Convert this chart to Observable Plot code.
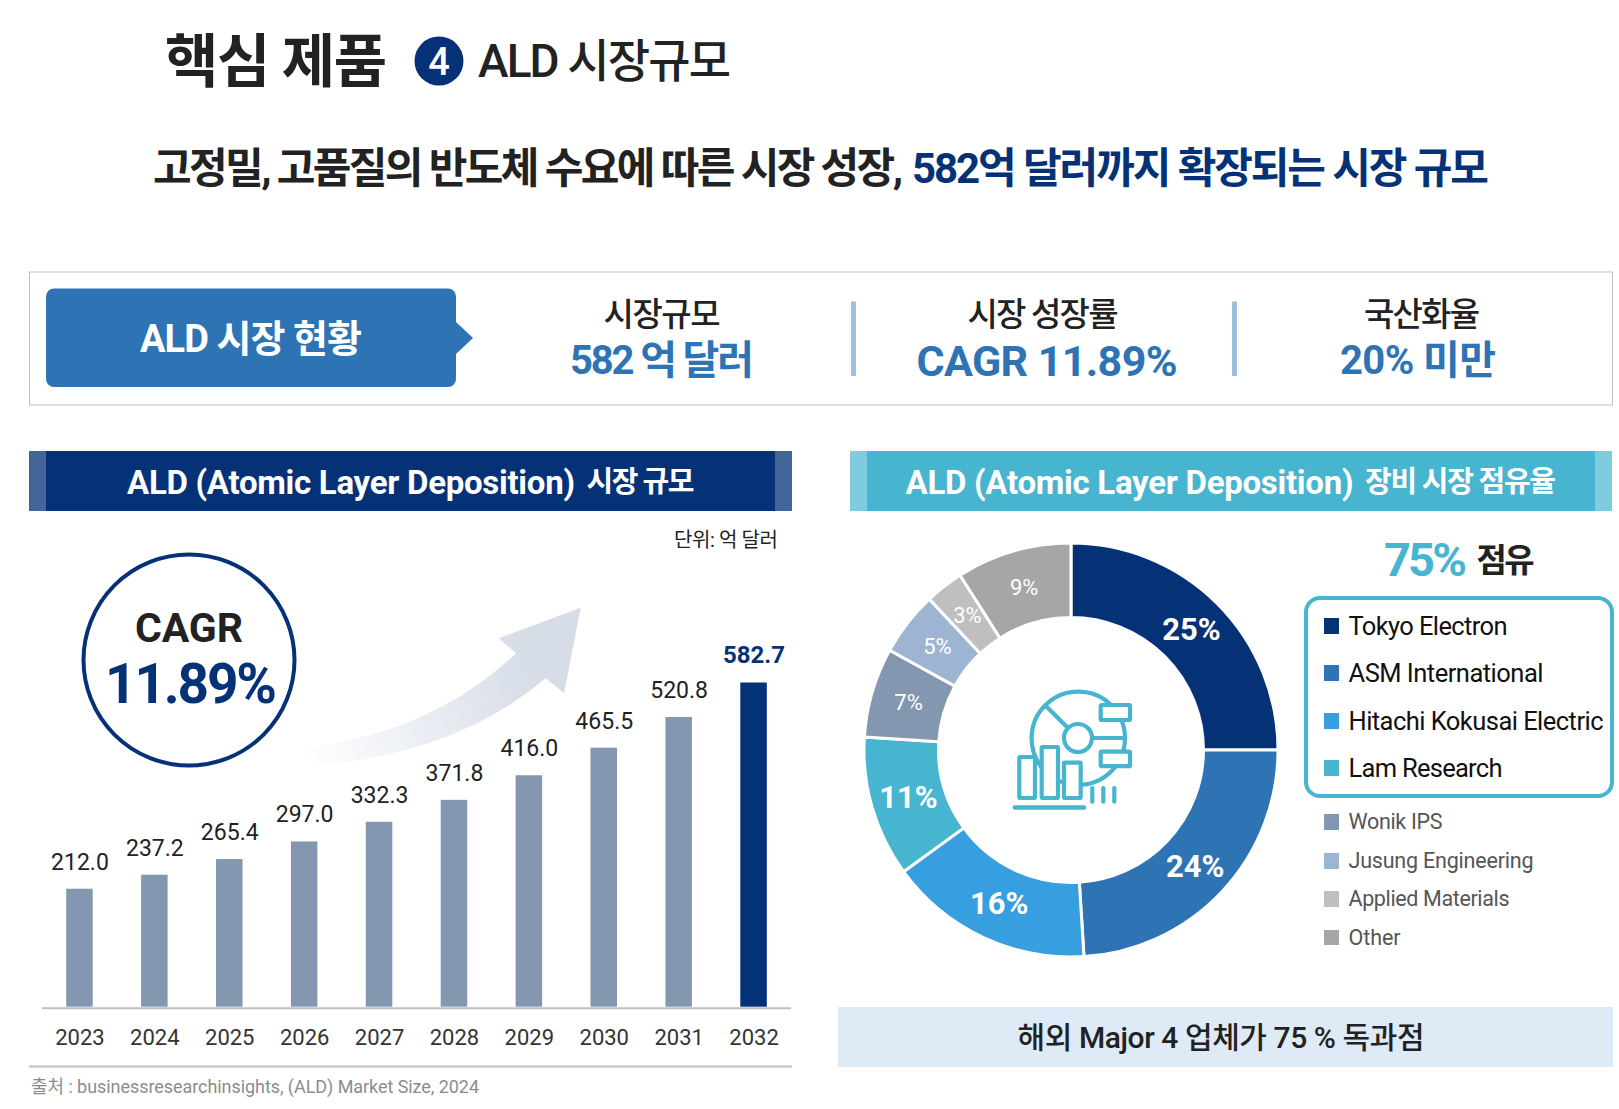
<!doctype html>
<html lang="ko"><head><meta charset="utf-8">
<script src="https://cdn.jsdelivr.net/npm/d3@7"></script>
<script src="https://cdn.jsdelivr.net/npm/@observablehq/plot@0.6"></script>
<style>
html,body{margin:0;background:#fff}
#page{position:relative;width:1619px;height:1109px;overflow:hidden;font-family:Roboto,"Noto Sans CJK KR",sans-serif;color:#222}
#page>svg,#page>.plot{position:absolute}
.t{position:absolute;white-space:pre;line-height:1}
</style></head><body><div id="page"></div>
<script>
const years = ["2023","2024","2025","2026","2027","2028","2029","2030","2031","2032"];
const marketSize = [212.0,237.2,265.4,297.0,332.3,371.8,416.0,465.5,520.8,582.7];
const companies = ["Tokyo Electron","ASM International","Hitachi Kokusai Electric","Lam Research","Wonik IPS","Jusung Engineering","Applied Materials","Other"];
const shares = [25,24,16,11,7,5,3,9];
const NAVY="#053277", BLUE="#2e74b5", TEAL="#47b4d0", SLATE="#8497b0";
const shareColors = [NAVY,BLUE,"#379fe0",TEAL,SLATE,"#9db5d2","#bfbfbf","#a6a6a6"];
const legendWidths = [159,195,255,154,94,185,161,52];
const legendY = [626,673,721,768,822,861,899,937.5];

const page = document.getElementById("page");

// decoration layer
const deco = document.createElementNS("http://www.w3.org/2000/svg","svg");
deco.setAttribute("width",1619);deco.setAttribute("height",1109);deco.style.left=0;deco.style.top=0;
deco.innerHTML = `
<defs><linearGradient id="arrowGrad" gradientUnits="userSpaceOnUse" x1="300" y1="757" x2="530" y2="665">
<stop offset="0" stop-color="#fff"/><stop offset="1" stop-color="#d6dde7"/></linearGradient></defs>
<circle cx="439" cy="61" r="24.5" fill="${NAVY}"/>
<rect x="29.5" y="272" width="1583" height="133" fill="none" stroke="#bfbfbf"/>
<path d="M54,288.5H448a8,8 0 0 1 8,8V322L473,338L456,354V379a8,8 0 0 1 -8,8H54a8,8 0 0 1 -8,-8V296.5a8,8 0 0 1 8,-8Z" fill="${BLUE}"/>
<rect x="851" y="301.5" width="5" height="74.5" fill="#9dbfe0"/>
<rect x="1232" y="301.5" width="5" height="74.5" fill="#9dbfe0"/>
<rect x="29" y="451" width="763" height="60" fill="#44659a"/><rect x="46" y="451" width="729" height="60" fill="${NAVY}"/>
<rect x="850" y="451" width="762" height="60" fill="#7fcbdf"/><rect x="867" y="451" width="728" height="60" fill="${TEAL}"/>
<circle cx="189" cy="660" r="105.5" fill="#fff" stroke="${NAVY}" stroke-width="4"/>
<path d="M580.7,607.7L498.7,638.3L516,653.3C450,715 380,738 297,750L323,765C420,755 490,725 545.7,678.3L564,693.3Z" fill="url(#arrowGrad)"/>
<line x1="29" x2="792" y1="1066.5" y2="1066.5" stroke="#bfbfbf" stroke-width="2"/>
<rect x="838" y="1007" width="775" height="60" fill="#deeaf6"/>
<rect x="1306" y="598" width="306" height="198" rx="14" fill="none" stroke="${TEAL}" stroke-width="4"/>
<g fill="none" stroke="${TEAL}" stroke-width="4.2" stroke-linecap="round">
<circle cx="1078.3" cy="738.3" r="46.7"/>
<path d="M1046.7,706.7L1068,728M1093,738H1123"/>
<g fill="#fff"><circle cx="1078" cy="738" r="14"/>
<rect x="1100.7" y="705" width="29.3" height="15" rx="1"/><rect x="1100.7" y="751.7" width="29.3" height="14.5" rx="1"/>
<rect x="1019.3" y="757" width="15.7" height="41" rx="1"/><rect x="1041.7" y="747" width="16.3" height="51" rx="1"/><rect x="1064" y="762.7" width="16.7" height="35.3" rx="1"/></g>
<path d="M1092.3,788V801.7M1103.3,788V801.7M1114.3,788V801.7"/>
<path d="M1015,807.5H1084" stroke-width="4.6"/></g>`;
page.appendChild(deco);

// bar chart
const barRows = years.map((year,i)=>({year,value:marketSize[i],color:i===years.length-1?NAVY:SLATE}));
const barLast = barRows.slice(-1), barRest = barRows.slice(0,-1);
const FONT = 'Roboto,"Noto Sans CJK KR",sans-serif';
const barPlot = Plot.plot({
  width:810,height:420,marginLeft:42,marginRight:19,marginTop:52.5,marginBottom:43.3,
  style:{background:"transparent",fontFamily:FONT,fontSize:"22px",color:"#333"},
  x:{type:"band",domain:years,round:false,paddingInner:.646,paddingOuter:.323,label:null},
  y:{domain:[0,582.7],axis:null},
  color:{type:"identity"},
  marks:[
    Plot.barY(barRows,{x:"year",y:"value",fill:"color"}),
    Plot.ruleY([0],{stroke:"#bfbfbf",strokeWidth:2,dy:1}),
    Plot.axisX({tickSize:0,tickPadding:22,fontSize:22,label:null,fill:"#333"}),
    Plot.text(barRest,{x:"year",y:"value",text:d=>d.value.toFixed(1),dy:-27,fontSize:23,fill:"#222",lineAnchor:"middle"}),
    Plot.text(barLast,{x:"year",y:"value",text:d=>d.value.toFixed(1),dy:-28,fontSize:24,fontWeight:700,fill:NAVY,lineAnchor:"middle"})
  ]
});
barPlot.classList.add("plot");barPlot.style.left="0px";barPlot.style.top="630px";
page.appendChild(barPlot);

// donut chart
const INNER=0.64, MID=(1+INNER)/2;
const slices = d3.pie().sort(null)(shares).map((s,i)=>{
  const a=(s.startAngle+s.endAngle)/2;
  return {...s,share:shares[i],color:shareColors[i],cx:Math.sin(a)*MID,cy:Math.cos(a)*MID};
});
const donutPlot = Plot.plot({
  width:440,height:440,margin:0,
  style:{background:"transparent",fontFamily:FONT},
  x:{domain:[-1.0628,1.0628],range:[0,440],axis:null},
  y:{domain:[-1.0628,1.0628],range:[440,0],axis:null},
  marks:[
    (index,{x,y})=>{
      const R=x(1)-x(0);
      const g=d3.create("svg:g").attr("transform",`translate(${x(0)},${y(0)})`);
      const arc=d3.arc().innerRadius(R*INNER).outerRadius(R);
      g.selectAll("path").data(slices).join("path").attr("d",arc).attr("fill",d=>d.color).attr("stroke","#fff").attr("stroke-width",3);
      return g.node();
    },
    Plot.text(slices.filter(d=>d.share>=11),{x:"cx",y:"cy",text:d=>d.share+"%",fontSize:31,fontWeight:700,fill:"#fff",lineAnchor:"middle"}),
    Plot.text(slices.filter(d=>d.share<11),{x:"cx",y:"cy",text:d=>d.share+"%",fontSize:22,fill:"#fff",lineAnchor:"middle"})
  ]
});
donutPlot.classList.add("plot");donutPlot.style.left=(1070.7-220)+"px";donutPlot.style.top=(749.6-220)+"px";
page.appendChild(donutPlot);

// text
function T(html,o){
  const e=document.createElement("div");e.className="t";e.innerHTML=html;
  Object.assign(e.style,{fontSize:o.s+"px",fontWeight:o.b||400,color:o.c||"#222",top:o.y+"px"});
  page.appendChild(e);
  let ls=0;
  if(o.w){const n=e.textContent.length;ls=(o.w-e.getBoundingClientRect().width)/Math.max(1,n-1);e.style.letterSpacing=ls+"px";}
  const w=o.w||e.getBoundingClientRect().width;
  const left=o.cx!==undefined?o.cx-w/2:o.x;
  e.style.left=left+"px";e.style.transform="translateY(-50%)";
  return e;
}
T("핵심 제품",{x:165,y:62,s:58,b:700,w:222});
T("4",{cx:439,y:62,s:38,b:500,c:"#fff"});
T("ALD 시장규모",{x:478,y:61,s:46,b:500,w:253});
T("고정밀, 고품질의 반도체 수요에 따른 시장 성장,",{x:153,y:169,s:42,b:700,w:750});
T("582억 달러까지 확장되는 시장 규모",{x:912,y:169,s:42,b:700,c:NAVY,w:577});
T("ALD 시장 현황",{cx:251,y:339,s:38,b:700,c:"#fff",w:222});
T("시장규모",{cx:662,y:314,s:33,b:500,w:117});
T("582 억 달러",{cx:662,y:361,s:40,b:700,c:BLUE,w:184});
T("시장 성장률",{cx:1043,y:314,s:33,b:500,w:151});
T("CAGR 11.89%",{cx:1047,y:361,s:43,b:700,c:BLUE,w:261});
T("국산화율",{cx:1422,y:314,s:33,b:500,w:116});
T("20% 미만",{cx:1418,y:361,s:40,b:700,c:BLUE,w:156});
T("ALD (Atomic Layer Deposition)",{x:127,y:482,s:33,b:700,c:"#fff",w:448});
T("시장 규모",{x:586.5,y:482,s:29,b:700,c:"#fff",w:108});
T("ALD (Atomic Layer Deposition)",{x:905.5,y:482,s:33,b:700,c:"#fff",w:448});
T("장비 시장 점유율",{x:1365,y:482,s:29,b:700,c:"#fff",w:191});
T("단위: 억 달러",{x:674,y:540,s:20,w:104});
T("CAGR",{cx:189,y:628,s:41,b:700,w:108});
T("11.89%",{cx:191,y:684,s:55,b:700,c:NAVY,w:172});
T("출처 : businessresearchinsights, (ALD) Market Size, 2024",{x:31,y:1087,s:18,c:"#8c8c8c",w:448});
T("75%",{x:1384,y:559,s:47,b:700,c:TEAL,w:83});
T("점유",{x:1476.5,y:560,s:33,b:700,w:58});
T("해외 Major 4 업체가 75 % 독과점",{cx:1221,y:1038,s:30,b:500,w:407});

companies.forEach((name,i)=>{
  const sw=document.createElement("div");
  Object.assign(sw.style,{position:"absolute",left:"1323.5px",top:(legendY[i]-7.75)+"px",width:"15.5px",height:"15.5px",background:shareColors[i]});
  page.appendChild(sw);
  const top4=i<4;
  T(name,{x:1348.5,y:legendY[i]+(top4?1:0),s:top4?25.5:21.5,b:400,c:top4?"#111":"#555",w:legendWidths[i]});
});
</script></body></html>
